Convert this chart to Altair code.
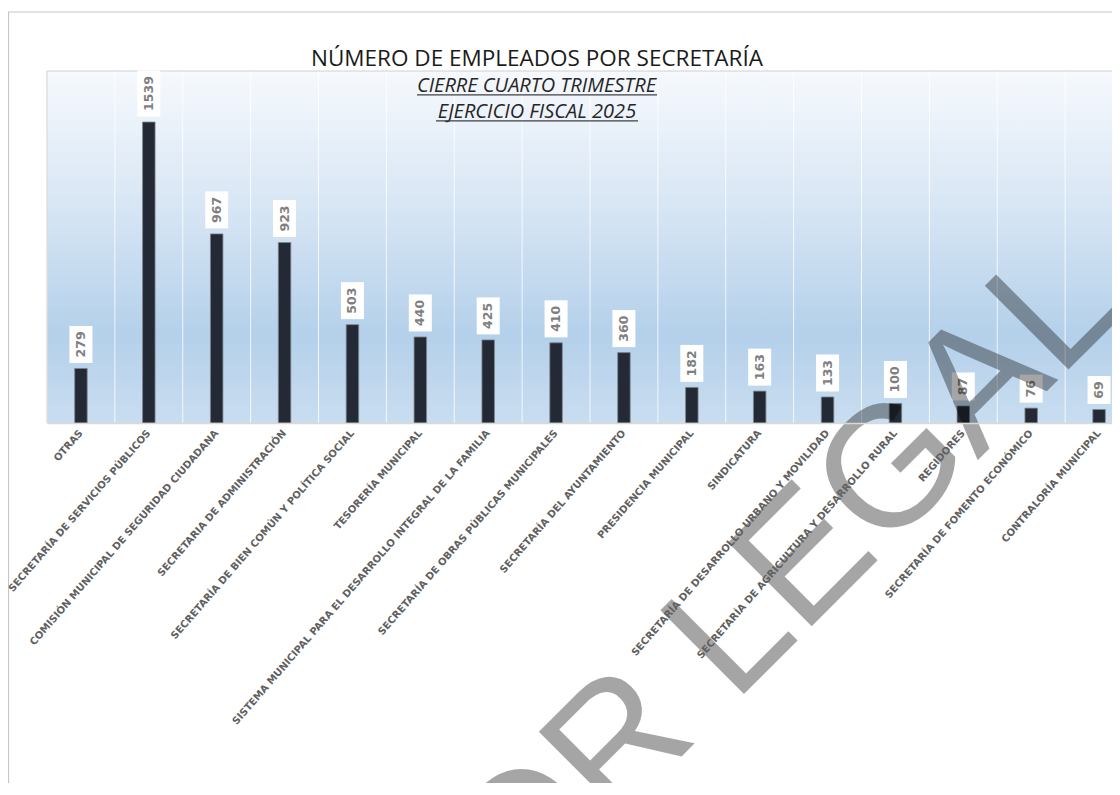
import altair as alt
import pandas as pd

categorias = [
    "OTRAS",
    "SECRETARÍA DE SERVICIOS PÚBLICOS",
    "COMISIÓN MUNICIPAL DE SEGURIDAD CIUDADANA",
    "SECRETARIA DE ADMINISTRACIÓN",
    "SECRETARÍA DE BIEN COMÚN Y POLÍTICA SOCIAL",
    "TESORERÍA MUNICIPAL",
    "SISTEMA MUNICIPAL PARA EL DESARROLLO INTEGRAL DE LA FAMILIA",
    "SECRETARÍA DE OBRAS PÚBLICAS MUNICIPALES",
    "SECRETARÍA DEL AYUNTAMIENTO",
    "PRESIDENCIA MUNICIPAL",
    "SINDICATURA",
    "SECRETARÍA DE DESARROLLO URBANO Y MOVILIDAD",
    "SECRETARÍA DE AGRICULTURA Y DESARROLLO RURAL",
    "REGIDORES",
    "SECRETARÍA DE FOMENTO ECONÓMICO",
    "CONTRALORÍA MUNICIPAL",
]
empleados = [279, 1539, 967, 923, 503, 440, 425, 410, 360, 182, 163, 133, 100, 87, 76, 69]

titulo = "NÚMERO DE EMPLEADOS POR SECRETARÍA"
subtitulos = ["CIERRE CUARTO TRIMESTRE", "EJERCICIO FISCAL 2025"]
marca_agua = ["SIN VALOR", "LEGAL"]

W = 1086      # full plot width (right part runs past the page edge)
H = 352
YMAX = 1800
k = YMAX / H  # data units per pixel

df = pd.DataFrame({"cat": categorias, "val": empleados})
df["label"] = df["val"].astype(str)
df["digits"] = df["label"].str.len()
df["box_lo"] = df["val"] + 5.5 * k
df["box_hi"] = df["val"] + (15.5 + 9 * df["digits"]) * k
df["box_mid"] = (df["box_lo"] + df["box_hi"]) / 2

one = pd.DataFrame({"a": [0]})

xscale = alt.Scale(paddingInner=0, paddingOuter=0)
xaxis = alt.Axis(
    title=None,
    labelAngle=311,
    labelAlign="right",
    labelBaseline="middle",
    labelFont="DejaVu Sans",
    labelFontWeight="bold",
    labelFontSize=10,
    labelColor="#606060",
    labelPadding=8,
    labelLimit=0,
    labelOverlap=False,
    ticks=False,
    grid=False,
    domainColor="#d9d9d9",
    domainWidth=1.5,
    zindex=1,
)
xenc = alt.X("cat:N", sort=categorias, scale=xscale, axis=xaxis)
yscale = alt.Scale(domain=[0, YMAX])

gradient = alt.LinearGradient(
    gradient="linear",
    stops=[
        alt.GradientStop(color="#f6f9fd", offset=0),
        alt.GradientStop(color="#d6e5f4", offset=0.4),
        alt.GradientStop(color="#b4d0ea", offset=0.75),
        alt.GradientStop(color="#c9ddf0", offset=1),
    ],
    x1=0, x2=0, y1=0, y2=1,
)

bg = alt.Chart(one).mark_rect(fill=gradient).encode(
    x=alt.value(0), x2=alt.value(W), y=alt.value(0), y2=alt.value(H)
)

# vertical white separators at the start of every category band
grid = alt.Chart(df).mark_rule(color="white", opacity=0.8, strokeWidth=1).encode(
    x=alt.X("cat:N", sort=categorias, scale=xscale, axis=xaxis, bandPosition=0),
    y=alt.value(0), y2=alt.value(H),
)

top_border = alt.Chart(one).mark_rule(color="#d0d0d0", strokeWidth=1).encode(
    x=alt.value(0), x2=alt.value(W), y=alt.value(0)
)
left_border = alt.Chart(one).mark_rule(color="#d0d0d0", strokeWidth=1).encode(
    x=alt.value(0), y=alt.value(0), y2=alt.value(H)
)
outer_top = alt.Chart(one).mark_rule(color="#c6c6c6", strokeWidth=1.2).encode(
    x=alt.value(-39), x2=alt.value(W + 10), y=alt.value(-59)
)
outer_left = alt.Chart(one).mark_rule(color="#c6c6c6", strokeWidth=1.2).encode(
    x=alt.value(-38.5), y=alt.value(-59), y2=alt.value(800)
)

bars = alt.Chart(df).mark_bar(size=12.5, color="#232a35", stroke="#7f858c", strokeWidth=0.8).encode(
    x=xenc, y=alt.Y("val:Q", scale=yscale, axis=None)
)
boxes = alt.Chart(df).mark_bar(size=23, color="white").encode(
    x=xenc, y=alt.Y("box_lo:Q", scale=yscale, axis=None), y2="box_hi:Q"
)
labels = alt.Chart(df).mark_text(
    angle=270, align="center", baseline="middle", font="DejaVu Sans",
    fontWeight="bold", fontSize=12.5, color="#7f7f7f"
).encode(x=xenc, y=alt.Y("box_mid:Q", scale=yscale, axis=None), text="label:N")

title_t = alt.Chart(pd.DataFrame({"t": [titulo]})).mark_text(
    font="Open Sans", fontSize=22.5, color="#1a1a1a", align="center", baseline="alphabetic"
).encode(x=alt.value(490), y=alt.value(-5.5), text="t:N")

sub1 = alt.Chart(pd.DataFrame({"t": [subtitulos[0]]})).mark_text(
    font="Open Sans", fontSize=20, fontStyle="italic", color="#262626", align="center", baseline="alphabetic"
).encode(x=alt.value(489.5), y=alt.value(21.3), text="t:N")
sub2 = alt.Chart(pd.DataFrame({"t": [subtitulos[1]]})).mark_text(
    font="Open Sans", fontSize=20, fontStyle="italic", color="#262626", align="center", baseline="alphabetic"
).encode(x=alt.value(490), y=alt.value(46.7), text="t:N")
ul1 = alt.Chart(one).mark_rule(color="#404040", strokeWidth=1.2).encode(
    x=alt.value(370), x2=alt.value(610), y=alt.value(23.8)
)
ul2 = alt.Chart(one).mark_rule(color="#404040", strokeWidth=1.2).encode(
    x=alt.value(389), x2=alt.value(591), y=alt.value(49.8)
)

WM = dict(font="Liberation Sans", fontSize=172, color="black", opacity=0.35,
          angle=315, baseline="alphabetic")
wm1 = alt.Chart(pd.DataFrame({"t": [marca_agua[0]]})).mark_text(align="right", **WM).encode(
    x=alt.value(653.3), y=alt.value(666.7), text="t:N"
)
wm2 = alt.Chart(pd.DataFrame({"t": [marca_agua[1]]})).mark_text(align="left", **WM).encode(
    x=alt.value(687.1), y=alt.value(632.9), text="t:N"
)

chart = alt.layer(
    bg, grid, top_border, left_border, outer_top, outer_left,
    bars, boxes, labels, title_t, sub1, sub2, ul1, ul2, wm1, wm2
).properties(
    width=W, height=H,
    autosize=alt.AutoSizeParams(type="none"),
    padding={"left": 39, "top": 63, "right": -21, "bottom": 360},
).configure_view(stroke=None).configure(background="white")

chart.save("out.html", embed_options={"renderer": "svg", "actions": False})
